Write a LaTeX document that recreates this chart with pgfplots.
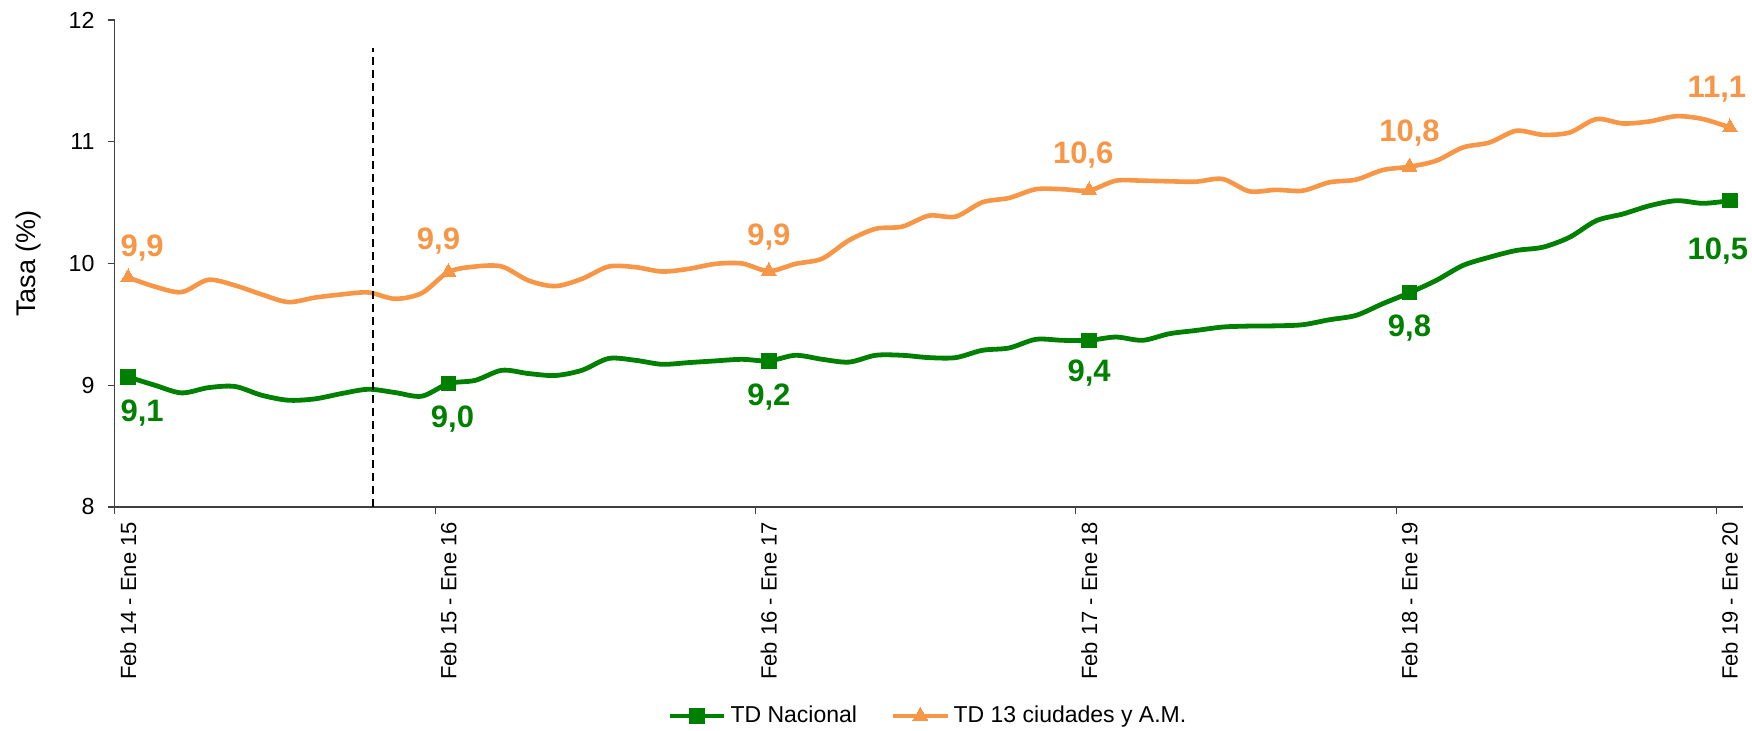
\documentclass[border=0pt]{standalone}
\usepackage{fontspec}
\setmainfont{Liberation Sans}
\usepackage{pgfplots}
\pgfplotsset{compat=1.18}
\usepackage{pgfplotstable}

\definecolor{tdgreen}{RGB}{0,128,0}
\definecolor{tdorange}{RGB}{247,150,70}

% rolling 12-month rates, one row per window (0 = Feb 14 - Ene 15)
\pgfplotstableread{
x y
0 9.068
1 9.00
2 8.937
3 8.98
4 8.99
5 8.918
6 8.877
7 8.888
8 8.932
9 8.967
10 8.94
11 8.91
12 9.014
13 9.04
14 9.123
15 9.096
16 9.08
17 9.123
18 9.22
19 9.205
20 9.172
21 9.186
22 9.20
23 9.213
24 9.20
25 9.246
26 9.213
27 9.19
28 9.246
29 9.246
30 9.227
31 9.227
32 9.287
33 9.306
34 9.377
35 9.369
36 9.369
37 9.396
38 9.369
39 9.423
40 9.45
41 9.478
42 9.486
43 9.488
44 9.497
45 9.538
46 9.574
47 9.67
48 9.76
49 9.861
50 9.984
51 10.052
52 10.107
53 10.134
54 10.216
55 10.352
56 10.407
57 10.475
58 10.516
59 10.494
60 10.516
}\nacional

\pgfplotstableread{
x y
0 9.885
1 9.81
2 9.765
3 9.866
4 9.82
5 9.746
6 9.683
7 9.72
8 9.746
9 9.762
10 9.71
11 9.757
12 9.93
13 9.975
14 9.975
15 9.86
16 9.814
17 9.874
18 9.975
19 9.97
20 9.934
21 9.956
22 9.997
23 10.0
24 9.937
25 9.997
26 10.04
27 10.19
28 10.285
29 10.303
30 10.393
31 10.385
32 10.503
33 10.538
34 10.61
35 10.61
36 10.60
37 10.68
38 10.68
39 10.675
40 10.672
41 10.694
42 10.593
43 10.605
44 10.598
45 10.667
46 10.689
47 10.768
48 10.795
49 10.844
50 10.953
51 10.994
52 11.09
53 11.057
54 11.076
55 11.186
56 11.15
57 11.167
58 11.21
59 11.186
60 11.117
}\ciudades

% data labels: value text and offset from the point (pt)
\pgfplotstableread{
x y lab dx dy
0 9.068 9,1 7 -18
12 9.014 9,0 2 -18
24 9.20 9,2 0 -18
36 9.369 9,4 0 -16.5
48 9.76 9,8 0 -17.5
60 10.516 10,5 -6 -25
}\labN

\pgfplotstableread{
x y lab dx dy
0 9.885 9,9 7 14.5
12 9.93 9,9 -5 15.5
24 9.937 9,9 0 17
36 10.60 10,6 -3 17.5
48 10.795 10,8 0 17
60 11.117 11,1 -6.5 19
}\labC

\begin{document}
\begin{tikzpicture}
\begin{axis}[
  scale only axis,
  width=814.2pt, height=243.5pt,
  xmin=-0.5, xmax=60.5,
  ymin=8, ymax=12,
  axis x line*=bottom, axis y line*=left,
  axis line style={black!75, line width=0.6pt},
  tick align=outside,
  major tick length=3.6pt,
  tick style={black!75, line width=0.6pt},
  ytick={8,9,10,11,12},
  xtick={-0.5,11.5,23.5,35.5,47.5,59.5},
  xticklabels={},
  extra x ticks={0,12,24,36,48,60},
  extra x tick labels={Feb 14 - Ene 15,Feb 15 - Ene 16,Feb 16 - Ene 17,Feb 17 - Ene 18,Feb 18 - Ene 19,Feb 19 - Ene 20},
  extra x tick style={major tick length=0pt,
    xticklabel style={yshift=-4pt, rotate=90, anchor=east}},
  xticklabel style={font=\fontsize{11}{13}\selectfont},
  yticklabel style={xshift=-3pt, font=\fontsize{11.6}{13}\selectfont},
  /pgf/number format/assume math mode=true,
  ylabel={Tasa (\%)},
  every axis y label/.style={at={(rel axis cs:0,0.5)}, xshift=-43pt,
    rotate=90, anchor=center, font=\fontsize{13.5}{15}\selectfont},
  legend style={at={(0.5,-0.429)}, anchor=center, draw=none, fill=none,
    font=\fontsize{11.5}{13}\selectfont,
    /tikz/every even column/.append style={column sep=15pt}},
  legend columns=2,
  legend image code/.code={\draw[mark repeat=2,mark phase=2,#1]
    plot coordinates {(0pt,0pt) (13.5pt,0pt) (27pt,0pt)};},
]
\addplot[tdgreen, line width=2.4pt, smooth, tension=0.5,
  mark=square*, mark size=3.6pt, mark repeat=12,
  mark options={solid, line width=0pt}]
  table[x=x, y=y] {\nacional};
\addlegendentry{TD Nacional}
\addplot[tdorange, line width=2.3pt, smooth, tension=0.5,
  mark=triangle*, mark size=4.3pt, mark repeat=12,
  mark options={solid, line width=0pt}]
  table[x=x, y=y] {\ciudades};
\addlegendentry{TD 13 ciudades y A.M.}

\addplot[black, line width=0.9pt, dash pattern=on 4pt off 2.5pt, forget plot]
  coordinates {(9.17,8) (9.17,11.77)};

\addplot[draw=none, mark=none, forget plot,
  nodes near coords, point meta=explicit symbolic,
  visualization depends on={\thisrow{dx} \as \dx},
  visualization depends on={\thisrow{dy} \as \dy},
  every node near coord/.append style={anchor=center, inner sep=0pt,
    xshift=\dx pt, yshift=\dy pt, text=tdgreen,
    font=\bfseries\fontsize{15.5}{18}\selectfont}]
  table[x=x, y=y, meta=lab] {\labN};
\addplot[draw=none, mark=none, forget plot,
  nodes near coords, point meta=explicit symbolic,
  visualization depends on={\thisrow{dx} \as \dx},
  visualization depends on={\thisrow{dy} \as \dy},
  every node near coord/.append style={anchor=center, inner sep=0pt,
    xshift=\dx pt, yshift=\dy pt, text=tdorange,
    font=\bfseries\fontsize{15.5}{18}\selectfont}]
  table[x=x, y=y, meta=lab] {\labC};

\coordinate (sw) at (rel axis cs:0,0);
\coordinate (ne) at (rel axis cs:1,1);
\end{axis}
\pgfresetboundingbox
\useasboundingbox ([xshift=-57.4pt,yshift=-112pt]sw) rectangle ([xshift=4.4pt,yshift=10pt]ne);
\end{tikzpicture}
\end{document}
